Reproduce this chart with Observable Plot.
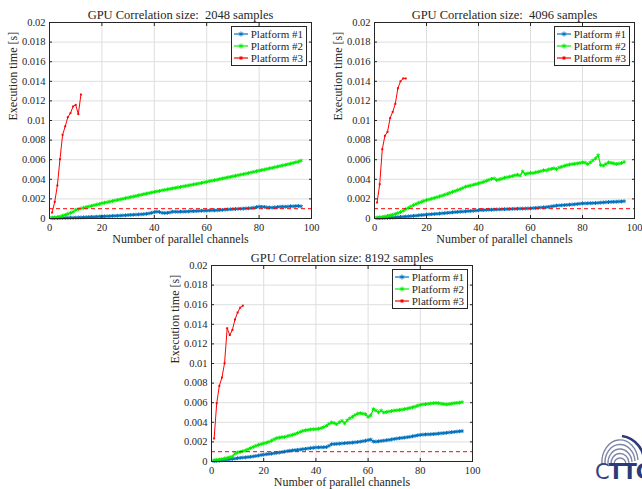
<!DOCTYPE html>
<html>
<head>
<meta charset="utf-8">
<script src="https://cdn.jsdelivr.net/npm/d3@7"></script>
<script src="https://cdn.jsdelivr.net/npm/@observablehq/plot@0.6"></script>
<style>
  html, body { margin: 0; padding: 0; background: #fff; }
  #wrap { position: relative; width: 642px; height: 489px; overflow: hidden; font-family: "Liberation Serif", "DejaVu Serif", serif; }
  .panel { position: absolute; }
  .legend { position: absolute; background: #fff; border: 1px solid #262626; font-family: "Liberation Serif", "DejaVu Serif", serif; font-size: 11px; color: #262626; padding: 1px 3px 1px 2px; line-height: 12px; }
  .legend .row { display: flex; align-items: center; white-space: nowrap; }
  .legend svg { margin-right: 3px; }
  #logo { position: absolute; left: 592px; top: 430px; width: 60px; height: 59px; }
  #logo .txt { position: absolute; left: 3px; top: 30px; font-family: "DejaVu Sans", sans-serif; font-size: 21px; color: #34437f; letter-spacing: -1px; }
  #logo .txt b { font-weight: bold; color: #2c3a78; }
</style>
</head>
<body>
<div id="wrap"></div>
<script>
// ---------- data ----------
const seriesNames = ["Platform #1", "Platform #2", "Platform #3"];
const seriesColors = ["#0072BD", "#00EE00", "#FF0000"];
const panelTitles = [
  "GPU Correlation size:  2048 samples",
  "GPU Correlation size:  4096 samples",
  "GPU Correlation size: 8192 samples"
];
const xTicks = [0, 20, 40, 60, 80, 100];
const yTicks = [0, 0.002, 0.004, 0.006, 0.008, 0.01, 0.012, 0.014, 0.016, 0.018, 0.02];
const yTickLabels = ["0", "0.002", "0.004", "0.006", "0.008", "0.01", "0.012", "0.014", "0.016", "0.018", "0.02"];
const thresholdLine = [0.001];
const xLabel = "Number of parallel channels";
const yLabel = "Execution time [s]";

const channels = d3.range(1, 97);     // 1..96 parallel channels (platforms #1, #2)
const channelsP3 = d3.range(1, 13);   // 1..12 parallel channels (platform #3)

// 2048 samples
const p1_2048 = [0.00003,0.00004,0.00004,0.00005,0.00006,0.00006,0.00007,0.00008,0.00008,0.00009,
  0.00010,0.00011,0.00012,0.00013,0.00015,0.00016,0.00017,0.00018,0.00020,0.00021,
  0.00022,0.00023,0.00024,0.00026,0.00027,0.00028,0.00030,0.00031,0.00033,0.00035,
  0.00037,0.00038,0.00040,0.00041,0.00043,0.00045,0.00048,0.00052,0.00058,0.00065,
  0.00070,0.00066,0.00058,0.00056,0.00058,0.00062,0.00070,0.00069,0.00068,0.00070,
  0.00070,0.00071,0.00072,0.00074,0.00075,0.00076,0.00078,0.00079,0.00080,0.00081,
  0.00082,0.00083,0.00083,0.00084,0.00086,0.00088,0.00090,0.00092,0.00094,0.00096,
  0.00097,0.00099,0.00100,0.00101,0.00103,0.00104,0.00106,0.00110,0.00116,0.00121,
  0.00120,0.00118,0.00114,0.00112,0.00111,0.00114,0.00117,0.00120,0.00121,0.00120,
  0.00122,0.00125,0.00124,0.00127,0.00128,0.00124];
const p2_2048 = [0.00010,0.00011,0.00014,0.00020,0.00028,0.00037,0.00047,0.00058,0.00068,0.00088,
  0.00095,0.00102,0.00109,0.00116,0.00122,0.00129,0.00135,0.00141,0.00148,0.00155,
  0.00161,0.00166,0.00172,0.00178,0.00184,0.00190,0.00195,0.00201,0.00207,0.00213,
  0.00219,0.00224,0.00230,0.00236,0.00242,0.00248,0.00254,0.00259,0.00265,0.00271,
  0.00276,0.00281,0.00287,0.00292,0.00297,0.00302,0.00307,0.00312,0.00317,0.00322,
  0.00327,0.00332,0.00337,0.00342,0.00347,0.00352,0.00357,0.00363,0.00368,0.00374,
  0.00380,0.00385,0.00391,0.00396,0.00402,0.00408,0.00413,0.00419,0.00424,0.00430,
  0.00436,0.00441,0.00447,0.00452,0.00458,0.00464,0.00470,0.00476,0.00482,0.00488,
  0.00494,0.00499,0.00505,0.00511,0.00517,0.00523,0.00529,0.00535,0.00541,0.00547,
  0.00553,0.00560,0.00566,0.00573,0.00580,0.00590];
const p3_2048 = [0.00061,0.0017,0.00337,0.00605,0.00854,0.0094,0.01034,0.01075,0.01143,0.0116,0.01065,0.01265];

// 4096 samples
const p1_4096 = [0.00003,0.00004,0.00005,0.00006,0.00007,0.00008,0.00010,0.00012,0.00014,0.00016,
  0.00018,0.00020,0.00022,0.00024,0.00027,0.00029,0.00032,0.00035,0.00037,0.00040,
  0.00042,0.00044,0.00046,0.00048,0.00050,0.00053,0.00055,0.00058,0.00060,0.00063,
  0.00065,0.00067,0.00069,0.00071,0.00073,0.00075,0.00077,0.00079,0.00081,0.00084,
  0.00086,0.00086,0.00088,0.00089,0.00090,0.00091,0.00092,0.00093,0.00094,0.00095,
  0.00096,0.00097,0.00098,0.00099,0.00100,0.00101,0.00101,0.00102,0.00103,0.00104,
  0.00106,0.00108,0.00110,0.00112,0.00114,0.00116,0.00119,0.00123,0.00127,0.00131,
  0.00133,0.00135,0.00137,0.00139,0.00141,0.00143,0.00145,0.00148,0.00151,0.00154,
  0.00154,0.00155,0.00156,0.00157,0.00158,0.00160,0.00162,0.00164,0.00166,0.00168,
  0.00169,0.00170,0.00171,0.00173,0.00174,0.00176];
const p2_4096 = [0.00010,0.00012,0.00015,0.00020,0.00026,0.00032,0.00038,0.00046,0.00055,0.00066,
  0.00079,0.00094,0.00108,0.00122,0.00136,0.00148,0.00160,0.00170,0.00180,0.00188,
  0.00194,0.00202,0.00209,0.00217,0.00225,0.00233,0.00242,0.00252,0.00262,0.00272,
  0.00280,0.00290,0.00300,0.00312,0.00324,0.00330,0.00336,0.00344,0.00350,0.00358,
  0.00366,0.00374,0.00384,0.00394,0.00404,0.00408,0.00392,0.00398,0.00406,0.00416,
  0.00420,0.00426,0.00432,0.00440,0.00446,0.00438,0.00480,0.00452,0.00460,0.00466,
  0.00462,0.00470,0.00476,0.00482,0.00492,0.00490,0.00500,0.00506,0.00512,0.00504,
  0.00520,0.00528,0.00536,0.00544,0.00550,0.00554,0.00558,0.00562,0.00566,0.00572,
  0.00570,0.00556,0.00572,0.00592,0.00612,0.00645,0.00546,0.00540,0.00556,0.00572,
  0.00568,0.00562,0.00556,0.00560,0.00566,0.00576];
const p3_4096 = [0.00163,0.0035,0.00707,0.00844,0.00884,0.01024,0.01088,0.0117,0.0133,0.0140,0.01429,0.01429];

// 8192 samples
const p1_8192 = [0.00003,0.00006,0.00009,0.00012,0.00016,0.00020,0.00024,0.00027,0.00030,0.00034,
  0.00037,0.00040,0.00042,0.00045,0.00048,0.00052,0.00056,0.00061,0.00066,0.00070,
  0.00074,0.00077,0.00080,0.00084,0.00088,0.00092,0.00096,0.00100,0.00105,0.00110,
  0.00113,0.00116,0.00119,0.00122,0.00126,0.00129,0.00133,0.00137,0.00140,0.00143,
  0.00144,0.00145,0.00146,0.00147,0.00160,0.00176,0.00178,0.00180,0.00182,0.00184,
  0.00187,0.00189,0.00191,0.00193,0.00196,0.00199,0.00203,0.00207,0.00212,0.00218,
  0.00224,0.00204,0.00203,0.00206,0.00210,0.00213,0.00217,0.00221,0.00225,0.00230,
  0.00234,0.00238,0.00241,0.00244,0.00248,0.00252,0.00257,0.00262,0.00267,0.00272,
  0.00274,0.00276,0.00277,0.00278,0.00280,0.00282,0.00285,0.00288,0.00290,0.00293,
  0.00296,0.00299,0.00302,0.00305,0.00308,0.00310];
const p2_8192 = [0.00014,0.00017,0.00020,0.00024,0.00030,0.00036,0.00042,0.00050,0.00080,0.00092,
  0.00098,0.00105,0.00112,0.00124,0.00136,0.00148,0.00160,0.00170,0.00177,0.00184,
  0.00192,0.00200,0.00212,0.00226,0.00238,0.00244,0.00248,0.00250,0.00258,0.00265,
  0.00272,0.00280,0.00290,0.00302,0.00313,0.00318,0.00322,0.00327,0.00329,0.00330,
  0.00334,0.00340,0.00350,0.00364,0.00384,0.00398,0.00392,0.00380,0.00400,0.00415,
  0.00390,0.00420,0.00440,0.00456,0.00474,0.00488,0.00493,0.00488,0.00482,0.00456,
  0.00470,0.00534,0.00520,0.00502,0.00520,0.00500,0.00504,0.00510,0.00515,0.00520,
  0.00522,0.00526,0.00530,0.00535,0.00540,0.00546,0.00552,0.00560,0.00570,0.00578,
  0.00582,0.00586,0.00589,0.00592,0.00595,0.00597,0.00596,0.00590,0.00586,0.00582,
  0.00586,0.00590,0.00595,0.00598,0.00600,0.00605];
const p3_8192 = [0.00235,0.00595,0.00772,0.00857,0.01003,0.0136,0.0129,0.01343,0.01449,0.0152,0.0157,0.0159];

// ---------- drawing ----------
const FONT = "'Liberation Serif', 'DejaVu Serif', serif";
const INK = "#262626";

function toRows(xs, ys) { return xs.map((x, i) => ({x, y: ys[i]})); }

function makePanel(cfg) {
  const {title, p1, p2, p3, left, top, width, height, ml, mr, mt, mb} = cfg;
  const d1 = toRows(channels, p1), d2 = toRows(channels, p2), d3r = toRows(channelsP3, p3);
  const fmt = d => yTickLabels[yTicks.indexOf(d)] ?? String(d);
  const chart = Plot.plot({
    width, height, marginLeft: ml, marginRight: mr, marginTop: mt, marginBottom: mb,
    style: {fontFamily: FONT, fontSize: "10px", color: INK, background: "transparent", overflow: "visible"},
    x: {domain: [0, 100], axis: null},
    y: {domain: [0, 0.02], axis: null},
    marks: [
      Plot.gridX(xTicks, {stroke: "#dedede", strokeOpacity: 1, strokeWidth: 1}),
      Plot.gridY(yTicks, {stroke: "#dedede", strokeOpacity: 1, strokeWidth: 1}),
      Plot.line(d1, {x: "x", y: "y", stroke: seriesColors[0], strokeWidth: 1.2}),
      Plot.dot(d1, {x: "x", y: "y", symbol: "asterisk", r: 1.8, stroke: seriesColors[0], strokeWidth: 1}),
      Plot.line(d2, {x: "x", y: "y", stroke: seriesColors[1], strokeWidth: 1.2}),
      Plot.dot(d2, {x: "x", y: "y", symbol: "asterisk", r: 1.8, stroke: seriesColors[1], strokeWidth: 1}),
      Plot.ruleY(thresholdLine, {stroke: "#ff0000", strokeWidth: 1, strokeDasharray: "4,3"}),
      Plot.line(d3r, {x: "x", y: "y", stroke: seriesColors[2], strokeWidth: 1}),
      Plot.dot(d3r, {x: "x", y: "y", symbol: "square", r: 1.1, fill: seriesColors[2], stroke: "none"}),
      Plot.frame({stroke: INK, strokeWidth: 1}),
      // inward ticks on all four sides
      Plot.axisX(xTicks, {anchor: "bottom", tickSize: 3, text: null, dy: -3, stroke: INK, label: null}),
      Plot.axisX(xTicks, {anchor: "top", tickSize: 3, text: null, dy: 3, stroke: INK, label: null}),
      Plot.axisY(yTicks, {anchor: "left", tickSize: 3, text: null, dx: 3, stroke: INK, label: null}),
      Plot.axisY(yTicks, {anchor: "right", tickSize: 3, text: null, dx: -3, stroke: INK, label: null}),
      // tick labels
      Plot.axisX(xTicks, {anchor: "bottom", tickSize: 0, tickPadding: 5, fill: INK, fontSize: 10.5, label: null}),
      Plot.axisY(yTicks, {anchor: "left", tickSize: 0, tickPadding: 4, tickFormat: fmt, fill: INK, fontSize: 10.5, label: null}),
      // labels & title
      Plot.text([title], {frameAnchor: "top", lineAnchor: "middle", dy: -8, fontSize: 12.5, fill: INK}),
      Plot.text([xLabel], {frameAnchor: "bottom", lineAnchor: "middle", dy: 21, fontSize: 12, fill: INK}),
      Plot.text([yLabel], {frameAnchor: "left", lineAnchor: "middle", dx: -36, rotate: -90, fontSize: 12, fill: INK})
    ]
  });
  const div = document.createElement("div");
  div.className = "panel";
  div.style.left = left + "px";
  div.style.top = top + "px";
  div.appendChild(chart);

  // legend (top-right inside the axes)
  const lg = document.createElement("div");
  lg.className = "legend";
  lg.style.right = (mr + 4) + "px";
  lg.style.top = (mt + 4) + "px";
  seriesNames.forEach((name, i) => {
    const row = document.createElement("div");
    row.className = "row";
    const c = seriesColors[i];
    const marker = i === 2
      ? `<rect x="5.5" y="2.5" width="3" height="3" fill="${c}"/>`
      : `<path d="M7,1.5V6.5M4.8,2.7L9.2,5.3M4.8,5.3L9.2,2.7" stroke="${c}" stroke-width="1"/>`;
    row.innerHTML = `<svg width="14" height="8"><line x1="0" x2="14" y1="4" y2="4" stroke="${c}" stroke-width="1.2"/>${marker}</svg><span>${name}</span>`;
    lg.appendChild(row);
  });
  div.appendChild(lg);
  document.getElementById("wrap").appendChild(div);
}

makePanel({title: panelTitles[0], p1: p1_2048, p2: p2_2048, p3: p3_2048,
  left: 0, top: 0, width: 320, height: 250, ml: 49, mr: 9, mt: 22, mb: 32});
makePanel({title: panelTitles[1], p1: p1_4096, p2: p2_4096, p3: p3_4096,
  left: 320, top: 0, width: 322, height: 250, ml: 54, mr: 8, mt: 22, mb: 32});
makePanel({title: panelTitles[2], p1: p1_8192, p2: p2_8192, p3: p3_8192,
  left: 160, top: 242, width: 320, height: 247, ml: 51, mr: 8, mt: 23, mb: 28});

// logo
const logo = document.createElement("div");
logo.id = "logo";
logo.innerHTML = `<svg width="60" height="36" style="position:absolute;left:0;top:0">
  <g fill="none" stroke="#7d86a8" stroke-width="1.4">
    <path d="M10,34 A18,22 0 0 1 46,30"/>
    <path d="M13,34 A15,18 0 0 1 43,31"/>
    <path d="M16,34 A12,14 0 0 1 40,32"/>
    <path d="M19,34 A9,10 0 0 1 37,33"/>
    <path d="M22,34 A6,6 0 0 1 34,34"/>
  </g>
  <path d="M30,6 A26,26 0 0 1 52,34" fill="none" stroke="#2c3a78" stroke-width="2.5"/>
</svg><div class="txt">C<b>TTC</b></div>`;
document.getElementById("wrap").appendChild(logo);
</script>
</body>
</html>
